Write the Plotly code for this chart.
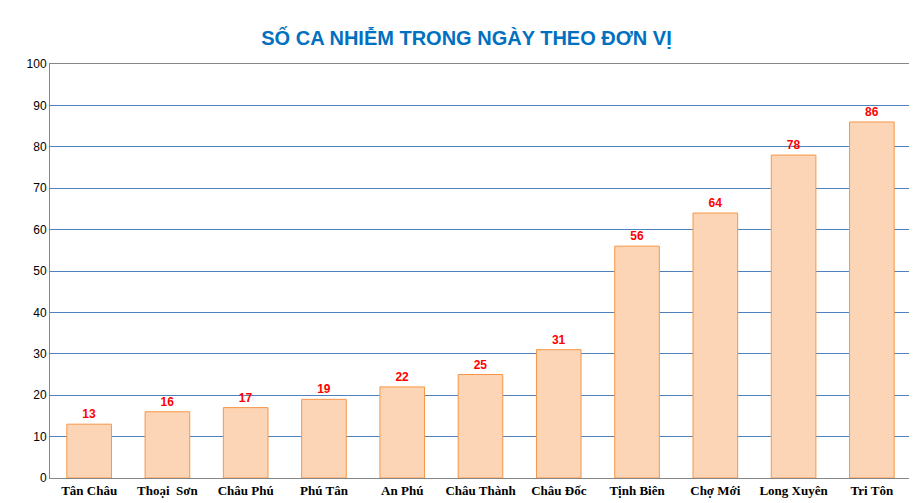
import plotly.graph_objects as go

units = ["Tân Châu", "Thoại  Sơn", "Châu Phú", "Phú Tân", "An Phú", "Châu Thành",
         "Châu Đốc", "Tịnh Biên", "Chợ Mới", "Long Xuyên", "Tri Tôn"]
cases = [13, 16, 17, 19, 22, 25, 31, 56, 64, 78, 86]
yticks = list(range(0, 101, 10))

fig = go.Figure(go.Bar(
    x=units, y=cases, text=[f"<b>{c}</b>" for c in cases], textposition="outside",
    textfont=dict(color="#FF0000", size=12, family="Arial"),
    marker=dict(color="#FBD5B5", line=dict(color="#F79646", width=1)),
    width=0.57, cliponaxis=False,
))
fig.update_layout(
    width=917, height=503, paper_bgcolor="white", plot_bgcolor="white",
    margin=dict(l=42, r=14, t=56, b=33, autoexpand=False),
    title=dict(text="<b>SỐ CA NHIỄM TRONG NGÀY THEO ĐƠN VỊ</b>", x=0.5, xanchor="center",
               y=0.955, font=dict(color="#0070C0", size=20, family="Arial")),
    showlegend=False,
)
fig.update_xaxes(showline=True, linecolor="#868686", ticks="", automargin=False,
                 tickfont=dict(family="Liberation Serif", size=13, color="#000000"),
                 tickprefix="<b>", ticksuffix="</b>", mirror=True)
fig.update_yaxes(range=[0, 100], tickvals=yticks, showgrid=True, gridcolor="#4F81BD",
                 gridwidth=1, showline=True, linecolor="#868686", mirror=True, automargin=False,
                 tickfont=dict(family="Arial", size=12, color="#000000"), zeroline=False)
fig.write_html("out.html")
